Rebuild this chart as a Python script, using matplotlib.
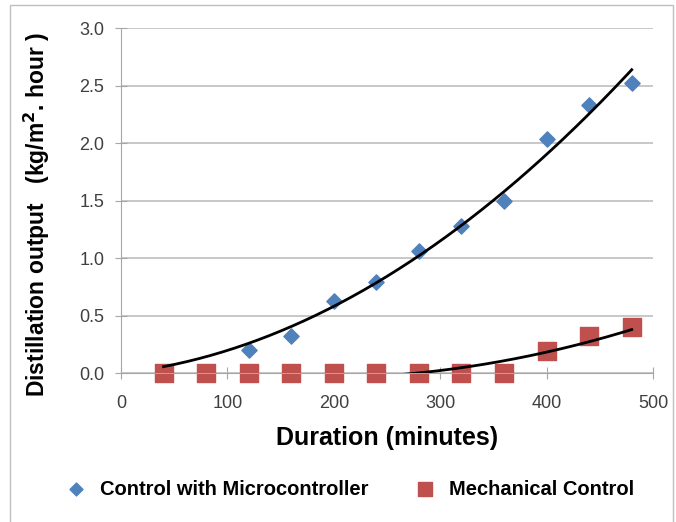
import matplotlib.pyplot as plt
import numpy as np
from matplotlib.patches import Rectangle

# Data
duration = [40, 80, 120, 160, 200, 240, 280, 320, 360, 400, 440, 480]
micro_duration = [120, 160, 200, 240, 280, 320, 360, 400, 440, 480]
micro_output = [0.20, 0.32, 0.63, 0.79, 1.06, 1.28, 1.50, 2.04, 2.33, 2.52]
mech_output = [0.0, 0.0, 0.0, 0.0, 0.0, 0.0, 0.0, 0.0, 0.0, 0.19, 0.32, 0.40]

blue = '#4F81BD'
red = '#C0504D'

plt.rcParams['font.family'] = ['Liberation Sans', 'DejaVu Sans']

fig = plt.figure(figsize=(6.76, 5.22), dpi=100)
ax = fig.add_axes([0.179, 0.285, 0.787, 0.661])

# frame around the whole chart
fig.patches.append(Rectangle((0.015, -0.01), 0.98, 1.0, transform=fig.transFigure,
                             fill=False, edgecolor='#BFBFBF', linewidth=1.0))

# second-order polynomial trendlines (microcontroller one forced through origin)
xm = np.array(micro_duration, dtype=float)
coef, *_ = np.linalg.lstsq(np.column_stack([xm, xm ** 2]), np.array(micro_output), rcond=None)
p_mech = np.polyfit(duration, mech_output, 2)
x_micro = np.linspace(40, 480, 200)
x_mech = np.linspace(240, 480, 200)
ax.plot(x_micro, coef[0] * x_micro + coef[1] * x_micro ** 2, color='black', linewidth=2, zorder=3)
ax.plot(x_mech, np.polyval(p_mech, x_mech), color='black', linewidth=2, zorder=3)

ax.scatter(micro_duration, micro_output, marker='D', s=60, color=blue, zorder=2,
           label='Control with Microcontroller')
ax.scatter(duration, mech_output, marker='s', s=150, color=red, zorder=2.5,
           label='Mechanical Control', clip_on=False)

ax.set_xlim(0, 500)
ax.set_ylim(0, 3.0)
ax.set_xticks(np.arange(0, 501, 100))
ax.set_yticks(np.arange(0, 3.01, 0.5))
ax.set_yticklabels([f'{v:.1f}' for v in np.arange(0, 3.01, 0.5)])
ax.tick_params(axis='both', direction='inout', length=8, color='#A6A6A6',
               labelsize=13, labelcolor='#404040')
ax.tick_params(axis='x', pad=12)
ax.tick_params(axis='y', pad=8)
ax.grid(axis='y', color='#BFBFBF', linewidth=1.2)
ax.set_axisbelow(True)
for side in ['top', 'right']:
    ax.spines[side].set_visible(False)
for side in ['left', 'bottom']:
    ax.spines[side].set_color('#A6A6A6')

ax.set_xlabel('Duration (minutes)', fontsize=18, fontweight='bold', labelpad=10)
ax.set_ylabel('Distillation output   (kg/m$^{\\mathbf{2}}$. hour )', fontsize=16.5,
              fontweight='bold')
ax.yaxis.set_label_coords(-0.13, 0.46)

fig.legend(loc='lower center', bbox_to_anchor=(0.51, 0.01), ncol=2, frameon=False,
           prop={'size': 14.5, 'weight': 'bold'}, handletextpad=0.2, columnspacing=1.8,
           markerscale=0.85)

fig.savefig('out.png', dpi=100)
